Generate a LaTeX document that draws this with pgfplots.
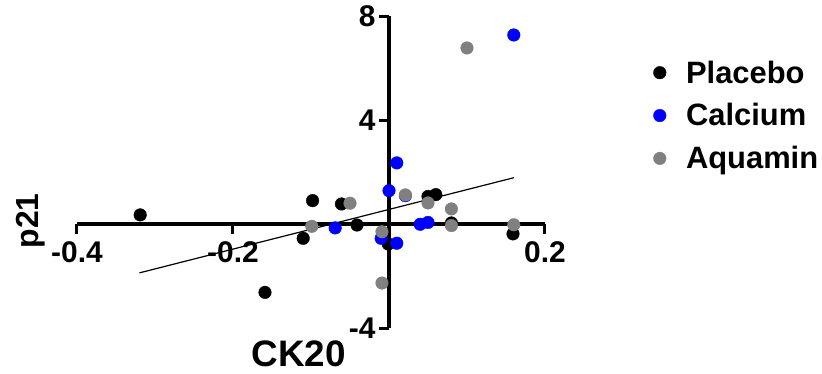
\documentclass[border=0pt]{standalone}
\usepackage{pgfplots}
\pgfplotsset{compat=1.18}
\usepackage{fontspec}
\setmainfont{Liberation Sans}
\definecolor{calc}{RGB}{0,0,255}
\definecolor{aqua}{RGB}{128,128,128}
\begin{document}
\begin{tikzpicture}
\useasboundingbox (-77bp,-46bp) rectangle (745bp,328bp);
\begin{axis}[
  scale only axis, width=468bp, height=312bp,
  xmin=-0.4, xmax=0.2, ymin=-4, ymax=8,
  axis lines=center,
  axis line style={-, line width=4bp, black},
  xtick={-0.4,-0.2,0.2}, xticklabels={-0.4,-0.2,0.2},
  ytick={-4,4,8}, yticklabels={-4,4,8},
  tick style={line width=3bp, black},
  major tick length=10bp,
  tick align=outside,
  ticklabel style={font=\fontsize{30}{30}\selectfont\bfseries},
  xticklabel style={yshift=-4bp},
  xlabel={CK20}, ylabel={p21},
  xlabel style={at={(axis description cs:0.474,-0.083)}, anchor=center, font=\fontsize{37}{37}\selectfont\bfseries},
  ylabel style={at={(axis description cs:-0.10,0.343)}, anchor=center, rotate=90, font=\fontsize{32}{32}\selectfont\bfseries},
  clip=false,
  legend style={at={(axis description cs:1.225,0.87)}, anchor=north west, draw=none, fill=none,
    font=\fontsize{31}{31}\selectfont\bfseries, row sep=15bp, column sep=18bp},
  legend cell align=left,
]
\addplot[black, line width=1.2bp, no marks, forget plot] coordinates {(-0.32,-1.88) (0.16,1.78)};
\addplot[only marks, mark=*, mark size=6.3bp, black, mark options={fill=black, draw=none}] coordinates {
(-0.319,0.35) (-0.110,-0.55) (-0.159,-2.63) (-0.098,0.90) (-0.061,0.77) (-0.041,-0.04)
(-0.001,-0.77) (0.050,1.06) (0.060,1.13) (0.080,0.04) (0.159,-0.38)
};
\addlegendentry{Placebo}
\addplot[only marks, mark=*, mark size=6.3bp, calc, mark options={fill=calc, draw=none}] coordinates {
(0.160,7.27) (0.010,2.35) (0.000,1.28) (0.021,1.09) (-0.069,-0.15) (-0.010,-0.55)
(0.010,-0.74) (0.040,-0.01) (0.050,0.06)
};
\addlegendentry{Calcium}
\addplot[only marks, mark=*, mark size=6.3bp, aqua, mark options={fill=aqua, draw=none}] coordinates {
(0.100,6.77) (0.021,1.12) (-0.050,0.80) (-0.099,-0.09) (-0.009,-0.30) (-0.009,-2.27)
(0.050,0.81) (0.080,0.58) (0.080,-0.06) (0.160,-0.03)
};
\addlegendentry{Aquamin}
\end{axis}
\end{tikzpicture}
\end{document}
